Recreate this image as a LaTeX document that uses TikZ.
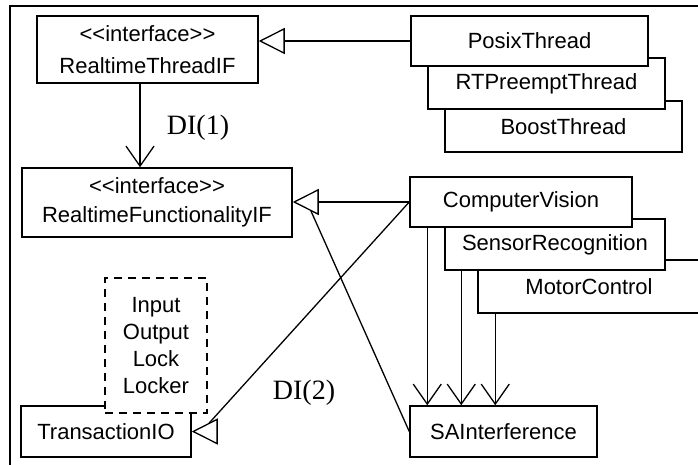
\documentclass[tikz,border=0pt]{standalone}
\usepackage{fontspec}
\setmainfont{Liberation Serif}
\newfontfamily\umlfont{Liberation Sans}
\usetikzlibrary{arrows.meta,calc}

\tikzset{
  cls/.style={draw, fill=white, line width=1.5pt, inner sep=0pt, align=center,
              font=\umlfont\fontsize{22}{29.5}\selectfont},
  gen/.style={line width=1.3pt, -{Triangle[open,length=26pt,width=26pt,black]}},
  dep/.style={line width=1.3pt, -{Straight Barb[length=20pt,width=28pt]}},
  assoc/.style={line width=1.3pt},
  dilabel/.style={font=\fontsize{28}{30}\selectfont, inner sep=0pt},
}

\begin{document}
\begin{tikzpicture}[x=1pt, y=-1pt]
  \useasboundingbox (0,0) rectangle (698,465);
  \fill[white] (0,0) rectangle (698,465);

  % outer frame (top and left edges)
  \draw[line width=1.2pt] (10,465) -- (10,6) -- (698,6);

  % interfaces
  \node[cls, minimum width=221pt, minimum height=67pt] (rtif) at (147.5,49.5)
    {\raisebox{2pt}{<<interface>>}\\RealtimeThreadIF};
  \node[cls, minimum width=270pt, minimum height=69pt] (rfif) at (157,202.5)
    {<<interface>>\\RealtimeFunctionalityIF};

  % thread implementations (stacked, back to front)
  \node[cls, minimum width=237pt, minimum height=51pt] (boost) at (563.5,126.5) {BoostThread};
  \node[cls, minimum width=237pt, minimum height=51pt] (rtp) at (546.5,83.5) {RTPreemptThread};
  \node[cls, minimum width=237pt, minimum height=50pt] (posix) at (529.5,41) {PosixThread};

  % functionality implementations (stacked, back to front)
  \node[cls, minimum width=222pt, minimum height=53pt] (motor) at (589,286.5) {MotorControl};
  \node[cls, minimum width=220pt, minimum height=51pt] (sensor) at (555,244.5) {SensorRecognition};
  \node[cls, minimum width=222pt, minimum height=50pt] (cv) at (521,202) {ComputerVision};

  \node[cls, minimum width=187pt, minimum height=51pt] (sa) at (503.5,431.5) {SAInterference};
  \node[cls, minimum width=170pt, minimum height=51pt] (tio) at (106,431.5) {TransactionIO};

  % locking helpers
  \node[cls, dashed, dash pattern=on 8pt off 6pt, minimum width=102pt, minimum height=135pt,
        font=\umlfont\fontsize{22}{26.7}\selectfont] (lockbox) at (156,345.5)
    {Input\\Output\\Lock\\Locker};

  % connector end points
  \coordinate (rfifbase) at ($(rfif.east)+(18,8)$);
  \coordinate (tiofar) at ($(tio.east)+(40,0)$);
  \coordinate (tiojoin) at ($(tio.east)+(17,-8)$);
  \coordinate (cvout) at ($(cv.south west)+(18,0)$);
  \coordinate (srout) at ($(sensor.south west)+(17,0)$);
  \coordinate (mcout) at ($(motor.south west)+(18,0)$);
  \coordinate (rtout) at (140,0 |- rtif.south);

  % generalizations
  \draw[gen] (posix.west) -- (posix.west -| rtif.east);
  \draw[gen] (cv.west) -- (cv.west -| rfif.east);
  \draw[assoc] (sa.west) -- (rfifbase);
  % horizontal head on TransactionIO (only the tip is visible)
  \draw[gen, draw=white] (tiofar) -- (tio.east);
  \draw[assoc] (cv.west) -- (tiojoin);

  % dependency injections
  \draw[dep] (rtout) -- (rtout |- rfif.north);
  \draw[dep] (cvout) -- (cvout |- sa.north);
  \draw[dep] (srout) -- (srout |- sa.north);
  \draw[dep] (mcout) -- (mcout |- sa.north);

  \node[dilabel] (di1) at (198,128) {DI(1)};
  \node[dilabel] (di2) at (304,393) {DI(2)};
\end{tikzpicture}
\end{document}
